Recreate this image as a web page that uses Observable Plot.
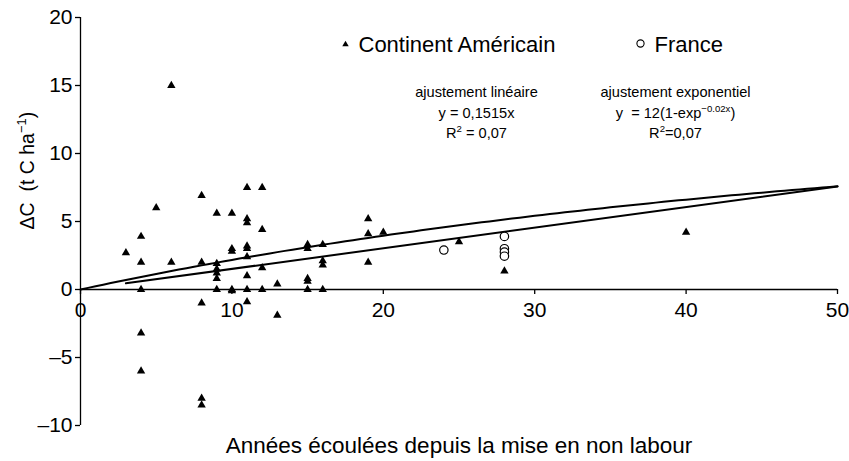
<!DOCTYPE html>
<html>
<head>
<meta charset="utf-8">
<script src="https://cdn.jsdelivr.net/npm/d3@7"></script>
<script src="https://cdn.jsdelivr.net/npm/@observablehq/plot@0.6"></script>
<style>
  body { margin: 0; background: #fff; }
  #chart svg { display: block; }
</style>
</head>
<body>
<div id="chart"></div>
<script>
// ---- tick labels ----
const xTicks = [0, 10, 20, 30, 40, 50];
const yTicks = [-10, -5, 0, 5, 10, 15, 20];

// ---- Continent Américain (triangles) ----
const americaX = [3, 4, 4, 4, 4, 4, 5, 6, 6, 8, 8, 8, 8, 8,
  9, 9, 9, 9, 9, 9, 10, 10, 10, 10, 10,
  11, 11, 11, 11, 11, 11, 11, 11, 11, 12, 12, 12, 12,
  13, 13, 15, 15, 15, 15, 15, 16, 16, 16, 16,
  19, 19, 19, 20, 25, 28, 40];
const americaY = [2.7, 3.9, 2.0, 0, -3.2, -6.0, 6.0, 15.0, 2.0, 6.9, 2.0, -1.0, -8.0, -8.5,
  5.6, 1.9, 1.5, 1.2, 0.8, 0, 5.6, 3.0, 2.8, 0, -0.1,
  7.5, 5.2, 4.9, 3.2, 3.0, 2.4, 1.0, 0, -0.9, 7.5, 4.4, 1.6, 0,
  0.4, -1.9, 3.3, 3.0, 0.8, 0.6, 0, 3.3, 2.1, 1.8, 0,
  5.2, 4.1, 2.0, 4.2, 3.5, 1.35, 4.2];

// ---- France (open circles) ----
const franceX = [24, 28, 28, 28, 28];
const franceY = [2.9, 3.9, 3.0, 2.75, 2.45];

// ---- fitted models, as printed on the chart ----
const linearSlope = 0.1515;          // y = 0,1515x
const linearXRange = [3, 50];
const expAmplitude = 12;             // y = 12(1-exp(-0.02x))
const expRate = 0.02;
const expXRange = [0, 50];

// ---- texts ----
const xTitle = "Années écoulées depuis la mise en non labour";
const yTitle = "ΔC  (t C ha^{−1})";
const legendLabels = ["Continent Américain", "France"];
const linearLabels = ["ajustement linéaire", "y = 0,1515x", "R^{2} = 0,07"];
const expLabels = ["ajustement exponentiel", "y  = 12(1-exp^{−0.02x})", "R^{2}=0,07"];

// ---- build tables ----
const america = americaX.map((x, i) => ({x, y: americaY[i]}));
const france = franceX.map((x, i) => ({x, y: franceY[i]}));
const linearFit = linearXRange.map(x => ({x, y: linearSlope * x}));
const expFit = d3.range(expXRange[0], expXRange[1] + 0.001, 0.5)
  .map(x => ({x, y: expAmplitude * (1 - Math.exp(-expRate * x))}));

const fmt = d => (d < 0 ? "–" + Math.abs(d) : String(d));
const FONT = "'Liberation Sans', Arial, Helvetica, sans-serif";

// annotation block helper: three centred lines
const lineGap = 20.5;
function block(labels, dx, dy0) {
  return labels.map((t, i) => Plot.text([t], {
    frameAnchor: "top-left", dx, dy: dy0 + i * lineGap,
    lineAnchor: "middle", textAnchor: "middle", fontSize: 14.6, fill: "#000"
  }));
}

const chart = Plot.plot({
  width: 849,
  height: 461,
  marginLeft: 80,
  marginRight: 12,
  marginTop: 17,
  marginBottom: 36,
  x: {domain: [0, 50], axis: null},
  y: {domain: [-10, 20], axis: null},
  style: {fontFamily: FONT, fontSize: "21px", color: "#000", background: "#fff"},
  marks: [
    // axes
    Plot.ruleX([0], {stroke: "#000", strokeWidth: 1.3}),
    Plot.ruleY([0], {stroke: "#000", strokeWidth: 1.3}),
    Plot.axisY({ticks: yTicks, tickSize: 5, tickPadding: 3, tickFormat: fmt,
      fontSize: 21, stroke: "#000", strokeWidth: 1.3, label: null}),
    Plot.ruleX(xTicks, {x: d => d, y1: 0, y2: 0, insetBottom: -5, stroke: "#000", strokeWidth: 1.3}),
    Plot.text(xTicks, {x: d => d, y: 0, dy: 21, text: d => fmt(d), fontSize: 21, fill: "#000"}),
    // fits
    Plot.line(expFit, {x: "x", y: "y", stroke: "#000", strokeWidth: 2}),
    Plot.line(linearFit, {x: "x", y: "y", stroke: "#000", strokeWidth: 2}),
    // data
    Plot.dot(america, {x: "x", y: "y", symbol: "triangle", r: 3.1, fill: "#000", stroke: "none"}),
    Plot.dot(france, {x: "x", y: "y", symbol: "circle", r: 4.2, fill: "#fff", stroke: "#000", strokeWidth: 1.2}),
    // legend
    Plot.dot([legendLabels[0]], {frameAnchor: "top-left", dx: 265, dy: 27, symbol: "triangle", r: 2.4, fill: "#000", stroke: "none"}),
    Plot.text([legendLabels[0]], {frameAnchor: "top-left", dx: 278, dy: 27, lineAnchor: "middle", textAnchor: "start", fontSize: 22, fill: "#000"}),
    Plot.dot([legendLabels[1]], {frameAnchor: "top-left", dx: 560, dy: 26, symbol: "circle", r: 3.6, fill: "#fff", stroke: "#000", strokeWidth: 1.1}),
    Plot.text([legendLabels[1]], {frameAnchor: "top-left", dx: 574, dy: 27, lineAnchor: "middle", textAnchor: "start", fontSize: 22, fill: "#000"}),
    // annotations
    ...block(linearLabels, 396, 75),
    ...block(expLabels, 595, 75),
    // axis titles
    Plot.text([xTitle], {frameAnchor: "bottom", dy: 20, lineAnchor: "middle", fontSize: 22.5, fill: "#000"}),
    Plot.text([yTitle], {frameAnchor: "left", dx: -53, dy: 8, rotate: -90, fontSize: 19.5, fill: "#000"})
  ]
});

document.getElementById("chart").appendChild(chart);

// turn "a^{b}c" into real superscript tspans
const SVGNS = "http://www.w3.org/2000/svg";
chart.querySelectorAll("text").forEach(t => {
  const s = t.textContent;
  if (!s.includes("^{")) return;
  const fs = parseFloat(getComputedStyle(t).fontSize) || 14;
  const shift = 0.42 * fs;
  const parts = s.split(/(\^\{[^}]*\})/).filter(p => p.length);
  t.textContent = "";
  let raised = false;
  parts.forEach(p => {
    const sp = document.createElementNS(SVGNS, "tspan");
    if (p.startsWith("^{")) {
      sp.textContent = p.slice(2, -1);
      sp.setAttribute("font-size", (0.66 * fs).toFixed(1));
      sp.setAttribute("dy", (-shift).toFixed(1));
      raised = true;
    } else {
      sp.textContent = p;
      if (raised) { sp.setAttribute("dy", shift.toFixed(1)); raised = false; }
    }
    t.appendChild(sp);
  });
});
</script>
</body>
</html>
